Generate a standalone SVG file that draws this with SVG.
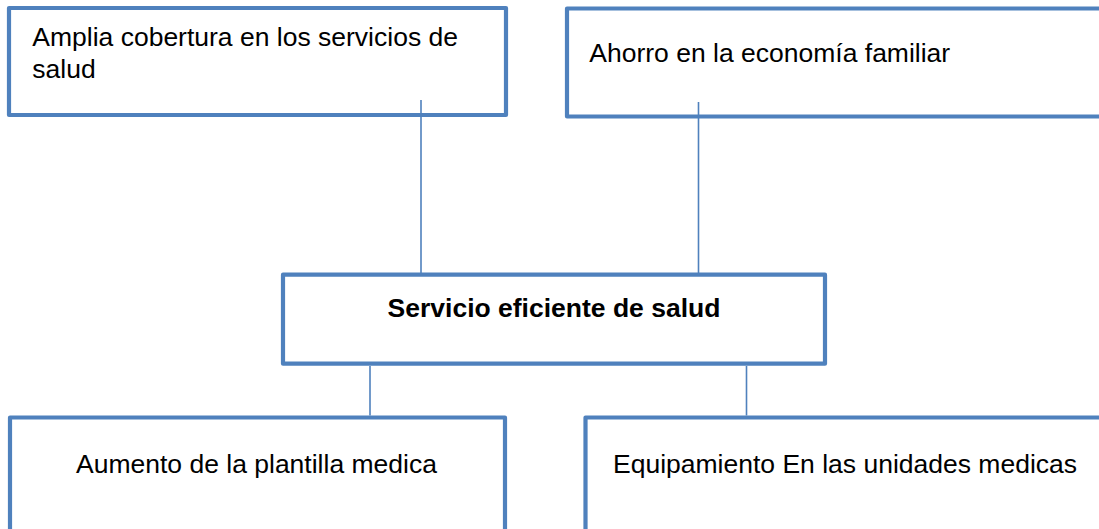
<svg xmlns="http://www.w3.org/2000/svg" width="1099" height="529" viewBox="0 0 1099 529">
  <style>
    .box { fill: #FFFFFF; stroke: #4F81BD; stroke-width: 4.2; stroke-linejoin: round; }
    .conn { stroke: #4F81BD; stroke-width: 1.6; fill: none; }
    .t { font-family: "Liberation Sans", Arial, sans-serif; font-size: 26.5px; fill: #000000; }
    .b { font-weight: bold; }
  </style>
  <rect width="1099" height="529" fill="#FFFFFF"/>
  <g id="node-amplia">
    <rect class="box" x="9" y="8" width="497" height="107"/>
    <text class="t" x="32.3" y="46">Amplia cobertura en los servicios de</text>
    <text class="t" x="32.3" y="78">salud</text>
  </g>
  <g id="node-ahorro">
    <rect class="box" x="567" y="8.5" width="600" height="108"/>
    <text class="t" x="589.3" y="62">Ahorro en la economía familiar</text>
  </g>
  <g id="node-servicio">
    <rect class="box" x="283" y="274.7" width="542" height="89"/>
    <text class="t b" x="554" y="317" text-anchor="middle">Servicio eficiente de salud</text>
  </g>
  <g id="node-aumento">
    <rect class="box" x="10" y="417.5" width="495" height="200"/>
    <text class="t" x="76" y="473">Aumento de la plantilla medica</text>
  </g>
  <g id="node-equipamiento">
    <rect class="box" x="585.5" y="417.5" width="600" height="200"/>
    <text class="t" x="613" y="473">Equipamiento En las unidades medicas</text>
  </g>
  <g id="connectors">
    <line class="conn" x1="421" y1="100" x2="421" y2="273"/>
    <line class="conn" x1="698.5" y1="102" x2="698.5" y2="273"/>
    <line class="conn" x1="370" y1="366" x2="370" y2="415.5"/>
    <line class="conn" x1="746.5" y1="366" x2="746.5" y2="415.5"/>
  </g>
</svg>
